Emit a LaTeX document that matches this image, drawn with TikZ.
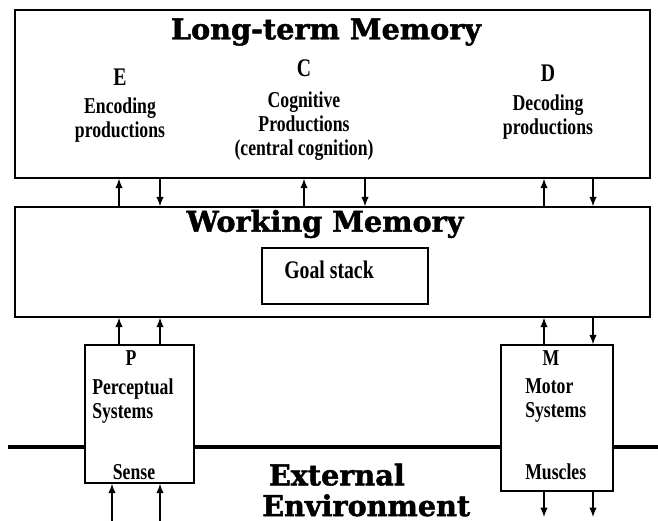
\documentclass[tikz,border=0pt]{standalone}
\usepackage{fontspec}
\usetikzlibrary{arrows.meta}
\newfontfamily\headfont{DejaVu Serif}[BoldFeatures={FakeBold=1.6}]
\newfontfamily\labfont{Liberation Serif}[FakeStretch=0.78]
\tikzset{
  box/.style={draw, line width=1.1pt, fill=white, inner sep=0pt},
  head/.style={font=\headfont\bfseries\fontsize{21.5}{24}\selectfont},
  lab/.style={font=\labfont\bfseries\fontsize{17}{18}\selectfont, inner sep=0pt},
  big/.style={font=\labfont\bfseries\fontsize{19}{21}\selectfont, inner sep=0pt},
  link/.style={-{Latex[length=7pt,width=5.5pt]}, line width=0.9pt}
}

\begin{document}
\begin{tikzpicture}[x=0.75pt, y=-0.75pt]
  \useasboundingbox (0,0) rectangle (658,521);
%  the surface line between body and environment
  \draw [-, line width=2.6pt] (8,447) -- (658,447);

  \node [box, minimum width=476.25pt, minimum height=126pt] (ltm) at (332.5,94) {};
  \node [box, minimum width=476.25pt, minimum height=82.5pt] (wm) at (332.5,262) {};
  \node [box, minimum width=124.5pt, minimum height=42pt] (goal) at (345,276) {};
  \node [box, minimum width=81.75pt, minimum height=103.5pt] (per) at (139.5,414) {};
  \node [box, minimum width=84pt, minimum height=109.5pt] (mot) at (557,418) {};

  % long-term memory
  \node [head] (ltmtitle) at (326,32) {Long-term Memory};
  \node [big] (e) at (120,77) {E};
  \node [lab, align=center] (enc) at (120,120) {Encoding\\productions};
  \node [big] (c) at (304,68) {C};
  \node [lab, align=center] (cog) at (304,126) {Cognitive\\Productions\\(central cognition)};
  \node [big] (d) at (548,73) {D};
  \node [lab, align=center] (dec) at (548,117) {Decoding\\productions};

  % working memory
  \node [head] (wmtitle) at (325,224) {Working Memory};
  \node [big] (goaltext) at (329,270) {Goal stack};

  % perceptual and motor systems
  \node [lab] (p) at (131,358) {P};
  \node [lab, align=left, anchor=west] (pertext) at (92,401) {Perceptual\\Systems};
  \node [lab] (sense) at (134,472) {Sense};
  \node [lab] (m) at (551,358) {M};
  \node [lab, align=left, anchor=west] (mottext) at (525,401) {Motor\\Systems};
  \node [lab, anchor=west] (muscles) at (525,472) {Muscles};

  \node [head, align=left, anchor=west, inner sep=0pt, font=\headfont\bfseries\fontsize{21.5}{23}\selectfont] (env) at (262,490) {\hspace{5pt}External\\Environment};

  % arrow positions
  \coordinate (a1) at (119,0);
  \coordinate (a2) at (160,0);
  \coordinate (a3) at (304,0);
  \coordinate (a4) at (365,0);
  \coordinate (a5) at (544,0);
  \coordinate (a6) at (593,0);
  \coordinate (s1) at (112,521);
  \coordinate (s2) at (160,521);
  \coordinate (o1) at (544,517);
  \coordinate (o2) at (593,517);

  \foreach \up/\dn in {a1/a2, a3/a4, a5/a6} {
    \draw [link] (wm.north -| \up) -- (ltm.south -| \up);
    \draw [link] (ltm.south -| \dn) -- (wm.north -| \dn);
  }
  \foreach \up in {a1, a2} {
    \draw [link] (per.north -| \up) -- (wm.south -| \up);
  }
  \draw [link] (mot.north -| a5) -- (wm.south -| a5);
  \draw [link] (wm.south -| a6) -- (mot.north -| a6);
  \foreach \s in {s1, s2} {
    \draw [link] (\s) -- (per.south -| \s);
  }
  \foreach \o in {o1, o2} {
    \draw [link] (mot.south -| \o) -- (\o);
  }
\end{tikzpicture}
\end{document}
